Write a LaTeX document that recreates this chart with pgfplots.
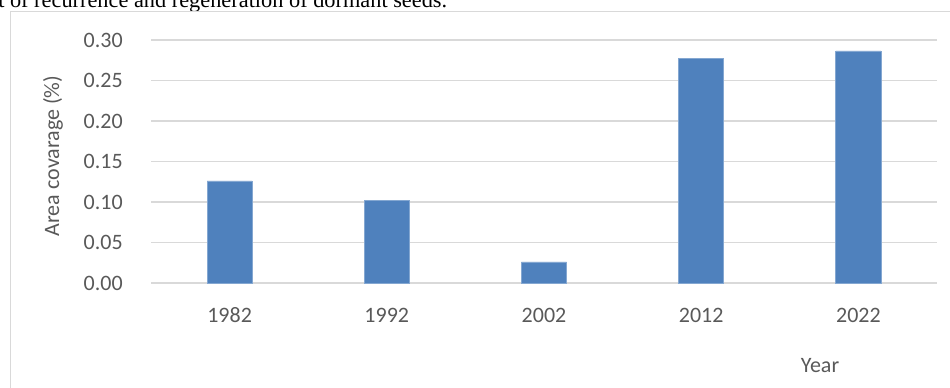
\documentclass[border=0pt]{standalone}
\usepackage{fontspec}
\setmainfont{Carlito}
\newfontfamily\timesfont{Liberation Serif}
\usepackage{pgfplots}
\pgfplotsset{compat=1.18}
\definecolor{barblue}{HTML}{4F81BD}
\definecolor{gridgray}{HTML}{D9D9D9}
\definecolor{textgray}{HTML}{595959}
\begin{document}
\begin{tikzpicture}[x=0.75pt,y=0.75pt]
\useasboundingbox (0,0) rectangle (950,387);
% caption fragment at top
\node[anchor=base west, inner sep=0pt, font=\timesfont\fontsize{16.75}{19}\selectfont] at (-2,379.5) {t of recurrence and regeneration of dormant seeds.};
% chart frame
\draw[gridgray, line width=1pt] (10.5,-5) -- (10.5,375.5) -- (960,375.5);
\begin{axis}[
  at={(113.25pt,78pt)}, anchor=south west,
  scale only axis,
  width=589.5pt, height=182.25pt,
  xmin=-0.5, xmax=4.5,
  ymin=0, ymax=0.30,
  ytick={0,0.05,0.10,0.15,0.20,0.25,0.30},
  yticklabel style={/pgf/number format/fixed, /pgf/number format/fixed zerofill, /pgf/number format/precision=2, xshift=-21pt},
  xtick={0,1,2,3,4},
  xticklabels={1982,1992,2002,2012,2022},
  /pgf/number format/assume math mode=true,
  ymajorgrids,
  grid style={gridgray, line width=1.2pt},
  axis line style={draw=none},
  axis x line*=bottom,
  x axis line style={gridgray, line width=1.2pt},
  major tick length=0pt,
  tick label style={font=\fontsize{16.5}{19}\selectfont, text=textgray, inner sep=0pt},
  xticklabel style={yshift=-18.5pt},
  clip=false,
]
\addplot[ybar, bar width=0.287, fill=barblue, draw=barblue!70!white, line width=0.6pt] coordinates {
  (0,0.126) (1,0.1015) (2,0.026) (3,0.277) (4,0.2865)
};
\end{axis}
\node[rotate=90, font=\fontsize{16.5}{19}\selectfont, text=textgray, inner sep=0pt] at (53,231) {Area covarage (\%)};
\node[anchor=base, font=\fontsize{16.5}{19}\selectfont, text=textgray, inner sep=0pt] at (820,15) {Year};
\end{tikzpicture}
\end{document}
